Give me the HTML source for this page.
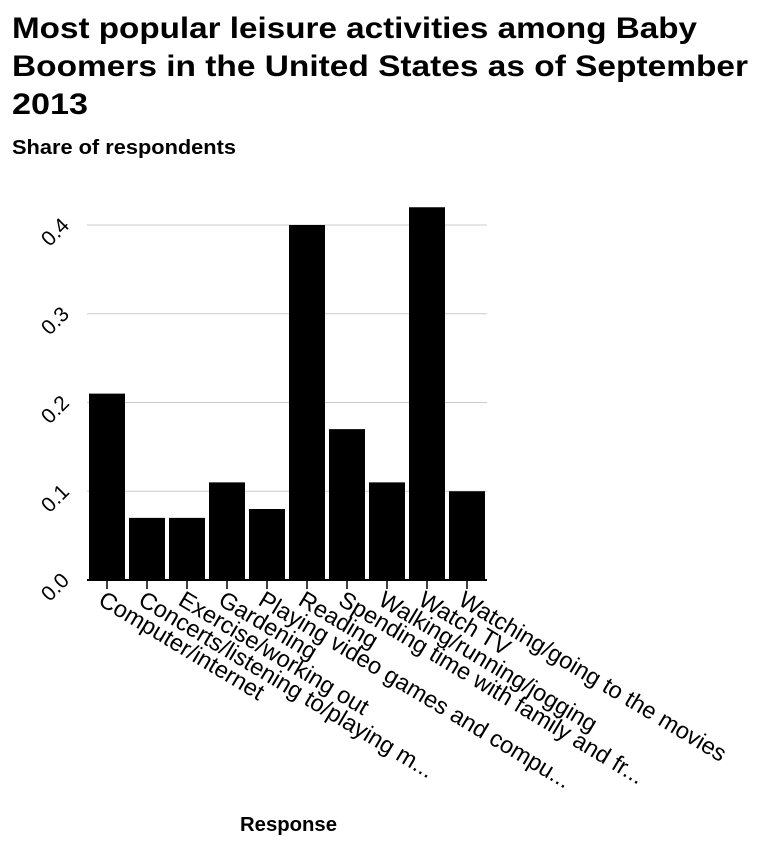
<!DOCTYPE html>
<html><head><meta charset="utf-8"><style>
body{margin:0;background:#fff;font-family:"Liberation Sans",sans-serif}
</style></head><body>
<svg width="760" height="846" xmlns="http://www.w3.org/2000/svg">
<text x="12" y="38" font-size="30" font-weight="bold" textLength="685" lengthAdjust="spacingAndGlyphs">Most popular leisure activities among Baby</text>
<text x="12" y="76" font-size="30" font-weight="bold" textLength="736" lengthAdjust="spacingAndGlyphs">Boomers in the United States as of September</text>
<text x="12" y="114" font-size="30" font-weight="bold" textLength="76" lengthAdjust="spacingAndGlyphs">2013</text>
<text x="12" y="154" font-size="20" font-weight="bold" textLength="224" lengthAdjust="spacingAndGlyphs">Share of respondents</text>
<text x="240" y="831" font-size="20" font-weight="bold" textLength="97" lengthAdjust="spacingAndGlyphs">Response</text>
<g id="grid"></g><g id="bars"></g><g id="axes"></g>
</svg>
<script>
const categories=["Computer/internet","Concerts/listening to/playing m...","Exercise/working out","Gardening","Playing video games and compu...","Reading","Spending time with family and fr...","Walking/running/jogging","Watch TV","Watching/going to the movies"];
const values=[0.21,0.07,0.07,0.11,0.08,0.40,0.17,0.11,0.42,0.10];
const yTicks=[0,0.1,0.2,0.3,0.4];
const yTickLabels=["0.0","0.1","0.2","0.3","0.4"];
const NS="http://www.w3.org/2000/svg";
const x0=87,x1=487,y0=580,yTop=225;
const band=(x1-x0)/categories.length;
const y=v=>y0-(v/0.4)*(y0-yTop);
const xc=i=>x0+band*(i+0.5);
function mk(t,a,p){const e=document.createElementNS(NS,t);for(const k in a)e.setAttribute(k,a[k]);p.appendChild(e);return e;}
const grid=document.getElementById('grid'),bars=document.getElementById('bars'),axes=document.getElementById('axes');
yTicks.forEach((v,i)=>{
 if(v>0){const l=mk('line',{x1:x0,x2:x1,y1:y(v),y2:y(v),stroke:'#ccc','stroke-width':1},grid);
 
 }
 const t=mk('text',{x:0,y:0,'font-size':21,'text-anchor':'middle',transform:`translate(60,${y(v)+12}) rotate(-45)`},axes);
 t.textContent=yTickLabels[i];
 
 
});
values.forEach((v,i)=>{
 const r=mk('rect',{x:xc(i)-18,y:y(v),width:36,height:y0-y(v),fill:'#000'},bars);
 
 
 const tk=mk('line',{x1:xc(i),x2:xc(i),y1:y0,y2:y0+9,stroke:'#000','stroke-width':1.5},axes);
 
 
 const t=mk('text',{x:0,y:0,'font-size':23.5,transform:`translate(${xc(i)-10},${y0+24}) rotate(31)`},axes);
 t.textContent=categories[i];
 
 
});
const ax=mk('line',{x1:x0,x2:x1,y1:y0,y2:y0,stroke:'#000','stroke-width':2},axes);


</script>
</body></html>
